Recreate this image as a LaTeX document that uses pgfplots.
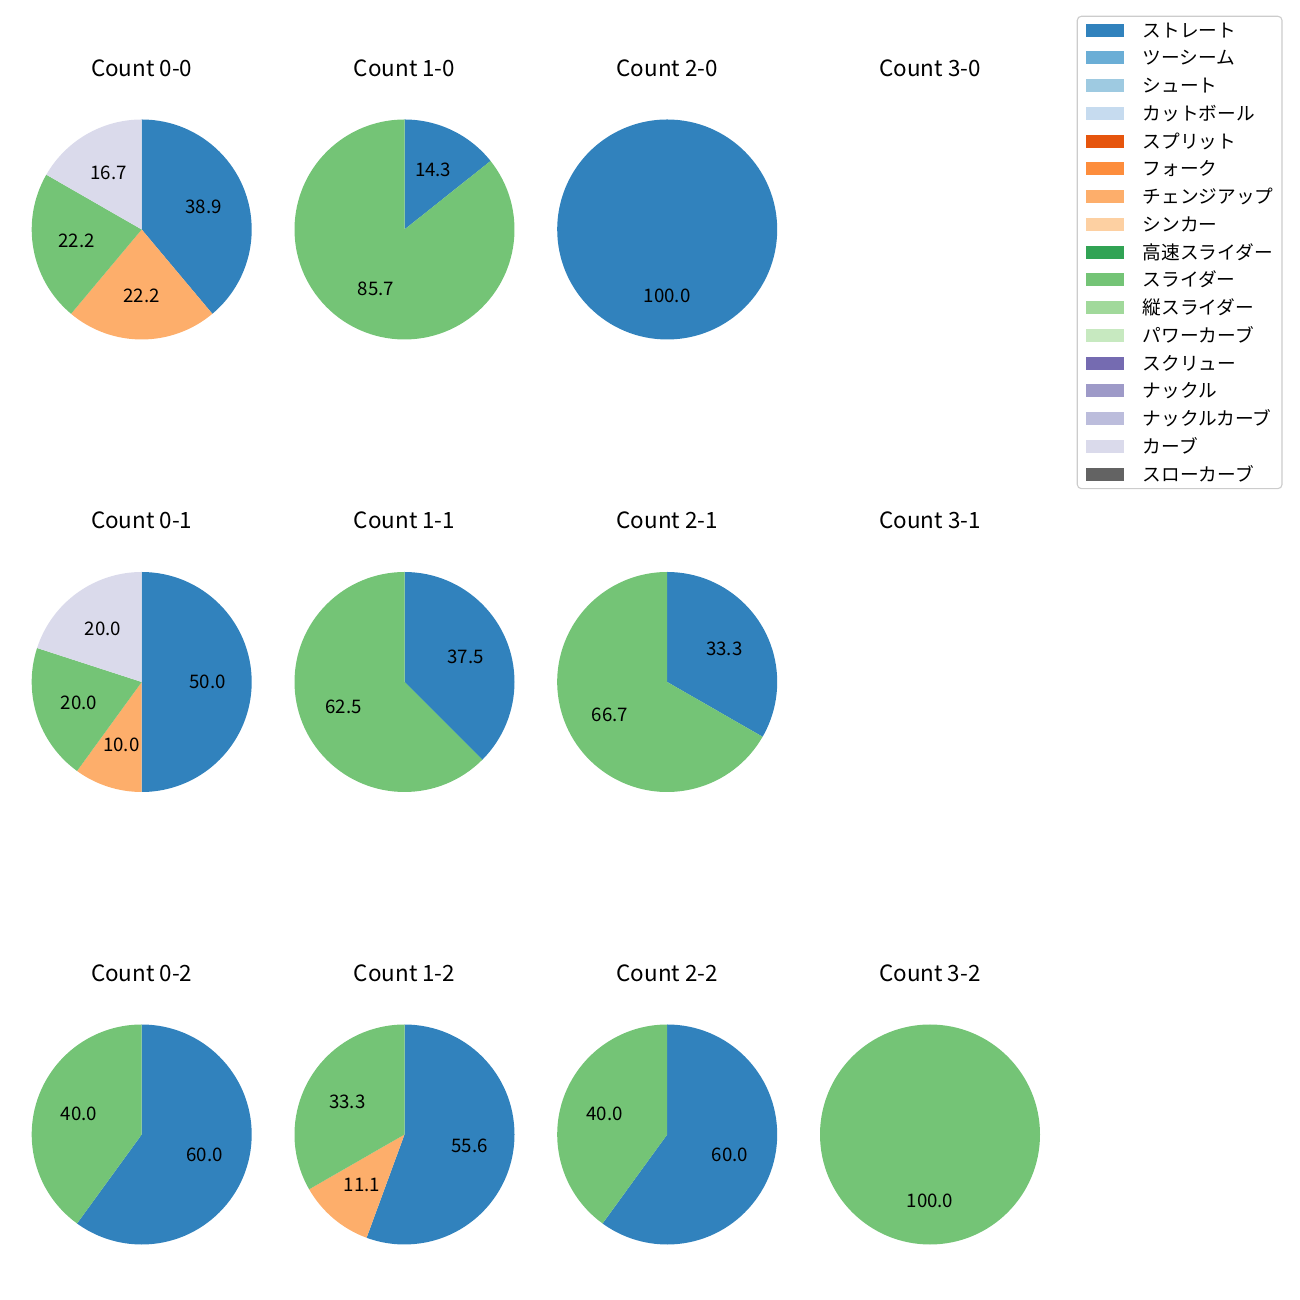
\documentclass[border=0pt]{standalone}
\usepackage{pgfplots}
\pgfplotsset{compat=1.18}
\usepackage{fontspec}
\setmainfont{Noto Sans CJK JP}

\definecolor{pStr}{HTML}{3182BD}
\definecolor{pTwo}{HTML}{6BAED6}
\definecolor{pSht}{HTML}{9ECAE1}
\definecolor{pCut}{HTML}{C6DBEF}
\definecolor{pSpl}{HTML}{E6550D}
\definecolor{pFrk}{HTML}{FD8D3C}
\definecolor{pChg}{HTML}{FDAE6B}
\definecolor{pSnk}{HTML}{FDD0A2}
\definecolor{pHSl}{HTML}{31A354}
\definecolor{pSld}{HTML}{74C476}
\definecolor{pVSl}{HTML}{A1D99B}
\definecolor{pPwc}{HTML}{C7E9C0}
\definecolor{pScr}{HTML}{756BB1}
\definecolor{pKnk}{HTML}{9E9AC8}
\definecolor{pKnc}{HTML}{BCBDDC}
\definecolor{pCrv}{HTML}{DADAEB}
\definecolor{pSlc}{HTML}{636363}
\definecolor{legframe}{HTML}{CCCCCC}

\tikzset{
  pctlabel/.style={font=\fontsize{13.5}{16}\selectfont, inner sep=0pt, anchor=center},
  ptitle/.style={font=\fontsize{16.2}{19}\selectfont, inner sep=0pt, anchor=base},
}

% #1 cumulative percent before the slice, #2 percent of the slice, #3 colour
\newcommand\slice[3]{%
  \pgfmathsetmacro\sa{90-3.6*#1}%
  \pgfmathsetmacro\ea{90-3.6*(#1+#2)}%
  \pgfmathsetmacro\ma{(\sa+\ea)/2}%
  \edef\temp{\noexpand\fill[#3] (axis cs:0,0) -- (axis cs:{cos(\sa)},{sin(\sa)}) arc[start angle=\sa, end angle=\ea, radius=1.1in] -- cycle;
  \noexpand\node[pctlabel] at (axis cs:{0.6*cos(\ma)},{0.6*sin(\ma)}) {#2};}%
  \temp
}
\newcommand\ptitle[1]{\node[ptitle] at (axis cs:0,1.395) {#1};}

\pgfplotsset{pie/.style={hide axis, scale only axis, width=2.2in, height=2.2in,
  xmin=-1, xmax=1, ymin=-1, ymax=1, anchor=center, clip=false}}

\begin{document}
\begin{tikzpicture}
\useasboundingbox (0,0) rectangle (13in,13in);

% Row 1
\begin{axis}[pie, at={(1.417in,10.705in)}]
\slice{0}{38.9}{pStr}\slice{38.9}{22.2}{pChg}\slice{61.1}{22.2}{pSld}\slice{83.3}{16.7}{pCrv}
\ptitle{Count 0-0}
\end{axis}
\begin{axis}[pie, at={(4.045in,10.705in)}]
\slice{0}{14.3}{pStr}\slice{14.3}{85.7}{pSld}
\ptitle{Count 1-0}
\end{axis}
\begin{axis}[pie, at={(6.672in,10.705in)}]
\slice{0}{100.0}{pStr}
\ptitle{Count 2-0}
\end{axis}
\begin{axis}[pie, at={(9.30in,10.705in)}]
\ptitle{Count 3-0}
\end{axis}

% Row 2
\begin{axis}[pie, at={(1.417in,6.18in)}]
\slice{0}{50.0}{pStr}\slice{50}{10.0}{pChg}\slice{60}{20.0}{pSld}\slice{80}{20.0}{pCrv}
\ptitle{Count 0-1}
\end{axis}
\begin{axis}[pie, at={(4.045in,6.18in)}]
\slice{0}{37.5}{pStr}\slice{37.5}{62.5}{pSld}
\ptitle{Count 1-1}
\end{axis}
\begin{axis}[pie, at={(6.672in,6.18in)}]
\slice{0}{33.3}{pStr}\slice{33.3}{66.7}{pSld}
\ptitle{Count 2-1}
\end{axis}
\begin{axis}[pie, at={(9.30in,6.18in)}]
\ptitle{Count 3-1}
\end{axis}

% Row 3
\begin{axis}[pie, at={(1.417in,1.655in)}]
\slice{0}{60.0}{pStr}\slice{60}{40.0}{pSld}
\ptitle{Count 0-2}
\end{axis}
\begin{axis}[pie, at={(4.045in,1.655in)}]
\slice{0}{55.6}{pStr}\slice{55.6}{11.1}{pChg}\slice{66.7}{33.3}{pSld}
\ptitle{Count 1-2}
\end{axis}
\begin{axis}[pie, at={(6.672in,1.655in)}]
\slice{0}{60.0}{pStr}\slice{60}{40.0}{pSld}
\ptitle{Count 2-2}
\end{axis}
\begin{axis}[pie, at={(9.30in,1.655in)}]
\slice{0}{100.0}{pSld}
\ptitle{Count 3-2}
\end{axis}

% Legend
\begin{axis}[hide axis, scale only axis, width=1in, height=1in,
  xmin=0, xmax=1, ymin=0, ymax=1,
  at={(10.767in,12.843in)}, anchor=north west,
  legend image code/.code={\fill[#1, draw=none, sharp corners] (0in,0.004in) rectangle (0.387in,0.134in);},
  legend cell align=left,
  legend style={at={(0,1)}, anchor=north west,
    font=\fontsize{13.5}{16}\selectfont,
    draw=legframe, line width=0.8pt, rounded corners=3pt, fill=white,
    inner xsep=0.085in, inner ysep=0.075in,
    row sep=0.1435in, column sep=0.183in,
    nodes={inner sep=0pt, text height=0.134in, text depth=0in, anchor=base west}},
]
\addlegendimage{fill=pStr}\addlegendentry{ストレート}
\addlegendimage{fill=pTwo}\addlegendentry{ツーシーム}
\addlegendimage{fill=pSht}\addlegendentry{シュート}
\addlegendimage{fill=pCut}\addlegendentry{カットボール}
\addlegendimage{fill=pSpl}\addlegendentry{スプリット}
\addlegendimage{fill=pFrk}\addlegendentry{フォーク}
\addlegendimage{fill=pChg}\addlegendentry{チェンジアップ}
\addlegendimage{fill=pSnk}\addlegendentry{シンカー}
\addlegendimage{fill=pHSl}\addlegendentry{高速スライダー}
\addlegendimage{fill=pSld}\addlegendentry{スライダー}
\addlegendimage{fill=pVSl}\addlegendentry{縦スライダー}
\addlegendimage{fill=pPwc}\addlegendentry{パワーカーブ}
\addlegendimage{fill=pScr}\addlegendentry{スクリュー}
\addlegendimage{fill=pKnk}\addlegendentry{ナックル}
\addlegendimage{fill=pKnc}\addlegendentry{ナックルカーブ}
\addlegendimage{fill=pCrv}\addlegendentry{カーブ}
\addlegendimage{fill=pSlc}\addlegendentry{スローカーブ}
\end{axis}
\end{tikzpicture}
\end{document}
